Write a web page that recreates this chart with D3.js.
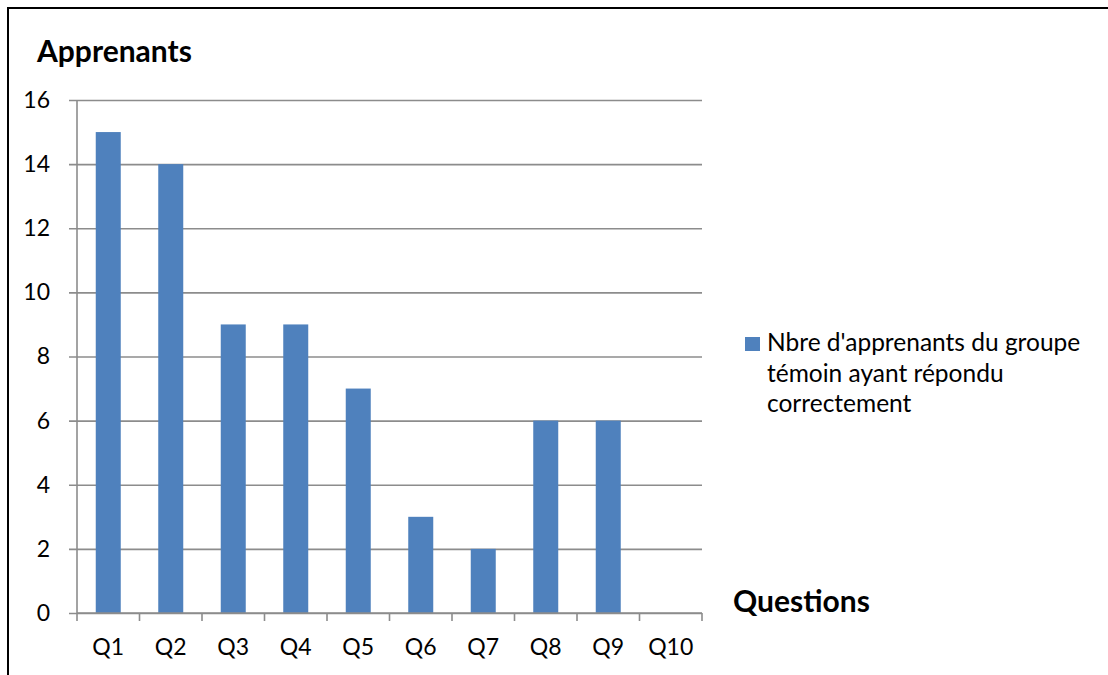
<!DOCTYPE html>
<html>
<head>
<meta charset="utf-8">
<script src="https://cdn.jsdelivr.net/npm/d3@7"></script>
<style>
  html, body { margin: 0; padding: 0; background: #fff; }
  svg { display: block; }
  text { font-family: Lato, "Liberation Sans", sans-serif; fill: #000; }
</style>
</head>
<body>
<svg id="chart" width="1108" height="675"></svg>
<script>
// Chart data
const categories = ["Q1", "Q2", "Q3", "Q4", "Q5", "Q6", "Q7", "Q8", "Q9", "Q10"];
const values = [15, 14, 9, 9, 7, 3, 2, 6, 6, 0];
const yTicks = [0, 2, 4, 6, 8, 10, 12, 14, 16];
const seriesName = ["Nbre d'apprenants du groupe", "témoin ayant répondu", "correctement"];
const yTitle = "Apprenants";
const xTitle = "Questions";

const svg = d3.select("#chart");
const barColor = "#4f81bd";
const gridColor = "#8c8c8c";

// Plot area
const plot = { left: 77, right: 702, top: 100, bottom: 613 };

const x = d3.scaleBand()
  .domain(categories)
  .range([plot.left, plot.right])
  .paddingInner(0.6)
  .paddingOuter(0.3);

const y = d3.scaleLinear()
  .domain([0, 16])
  .range([plot.bottom, plot.top]);

// Outer frame (top and left edges)
svg.append("path")
  .attr("d", "M8,675 L8,8 L1108,8")
  .attr("fill", "none")
  .attr("stroke", "#000")
  .attr("stroke-width", 2);

// Horizontal gridlines with y axis labels
const yAxis = d3.axisLeft(y)
  .tickValues(yTicks)
  .tickSize(-(plot.right - plot.left))
  .tickPadding(27)
  .tickFormat(d3.format("d"));

const gy = svg.append("g")
  .attr("transform", `translate(${plot.left},0)`)
  .call(yAxis);
gy.select(".domain").remove();
gy.selectAll(".tick line")
  .attr("x1", -8)
  .attr("stroke", gridColor)
  .attr("stroke-width", 1.6);
gy.selectAll(".tick text")
  .style("font-size", "23px")
  .attr("fill", "#000");

// Y axis line
svg.append("line")
  .attr("x1", plot.left).attr("x2", plot.left)
  .attr("y1", plot.top).attr("y2", plot.bottom)
  .attr("stroke", gridColor)
  .attr("stroke-width", 1.6);

// Bars
svg.append("g")
  .selectAll("rect")
  .data(values)
  .join("rect")
  .attr("x", (d, i) => x(categories[i]))
  .attr("y", d => y(d))
  .attr("width", x.bandwidth())
  .attr("height", d => y(0) - y(d))
  .attr("fill", barColor);

// X axis: category boundary ticks and labels
const step = x.step();
const x0 = plot.left;
const gx = svg.append("g");
gx.append("line")
  .attr("x1", plot.left).attr("x2", plot.right)
  .attr("y1", plot.bottom).attr("y2", plot.bottom)
  .attr("stroke", gridColor)
  .attr("stroke-width", 1.6);
gx.selectAll("line.tick")
  .data(d3.range(categories.length + 1))
  .join("line")
  .attr("class", "tick")
  .attr("x1", i => x0 + i * step).attr("x2", i => x0 + i * step)
  .attr("y1", plot.bottom).attr("y2", plot.bottom + 8)
  .attr("stroke", gridColor)
  .attr("stroke-width", 1.6);
gx.selectAll("text")
  .data(categories)
  .join("text")
  .attr("x", d => x(d) + x.bandwidth() / 2)
  .attr("y", 655)
  .attr("text-anchor", "middle")
  .style("font-size", "23px")
  .text(d => d);

// Axis titles
svg.append("text")
  .attr("x", 37).attr("y", 62)
  .style("font-size", "30px")
  .style("font-weight", "bold")
  .text(yTitle);

svg.append("text")
  .attr("x", 733).attr("y", 612)
  .style("font-size", "30px")
  .style("font-weight", "bold")
  .text(xTitle);

// Legend
const legend = svg.append("g");
legend.append("rect")
  .attr("x", 745).attr("y", 337)
  .attr("width", 15).attr("height", 14)
  .attr("fill", barColor);
legend.selectAll("text")
  .data(seriesName)
  .join("text")
  .attr("x", 767)
  .attr("y", (d, i) => 351 + i * 30.5)
  .style("font-size", "24.5px")
  .text(d => d);
</script>
</body>
</html>
